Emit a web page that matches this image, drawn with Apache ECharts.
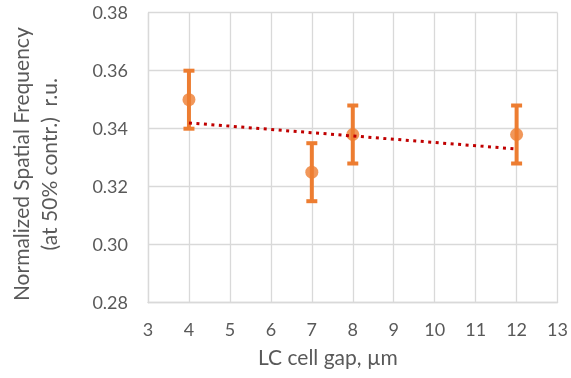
<!DOCTYPE html>
<html><head><meta charset="utf-8">
<script src="https://cdn.jsdelivr.net/npm/echarts@6/dist/echarts.min.js"></script>
<style>html,body{margin:0;padding:0;background:#fff}#c{width:571px;height:378px}</style>
</head><body><div id="c"></div>
<script>
const gapX = [4, 7, 8, 12];
const freqY = [0.350, 0.325, 0.338, 0.338];
const errLow = [0.340, 0.315, 0.328, 0.328];
const errHigh = [0.360, 0.335, 0.348, 0.348];
const trendX = [4, 12];
const trendY = [0.342, 0.333];
const xTitle = 'LC cell gap, µm';
const yTitle = 'Normalized Spatial Frequency\n(at 50% contr.)  r.u.';

const FONT = 'Lato';
const chart = echarts.init(document.getElementById('c'), null, {renderer: 'canvas'});
const orange = '#ED7D31';
chart.setOption({
  animation: false,
  title: {text: xTitle, left: 258, top: 348, padding: 0, textStyle: {fontFamily: FONT, fontSize: 21, fontWeight: 'normal', color: '#595959'}},
  grid: {left: 146, right: 12, top: 12.7, bottom: 75.3, containLabel: false},
  xAxis: {
    type: 'value', min: 3, max: 13, interval: 1,
    axisLine: {lineStyle: {color: '#D9D9D9', width: 1.3}},
    axisTick: {show: false},
    splitLine: {show: true, lineStyle: {color: '#D9D9D9', width: 1.3}},
    axisLabel: {color: '#595959', fontFamily: FONT, fontSize: 18, margin: 18}
  },
  yAxis: {
    type: 'value', min: 0.28, max: 0.38, interval: 0.02,
    name: yTitle, nameLocation: 'middle', nameGap: 84, nameRotate: 90,
    nameTextStyle: {color: '#595959', fontFamily: FONT, fontSize: 21, lineHeight: 28, align: 'center', padding: [0, 13, 0, 0]},
    axisLine: {show: true, lineStyle: {color: '#D9D9D9', width: 1.3}},
    axisTick: {show: false},
    splitLine: {show: true, lineStyle: {color: '#D9D9D9', width: 1.3}},
    axisLabel: {color: '#595959', fontFamily: FONT, fontSize: 18, margin: 20, formatter: v => v.toFixed(2)}
  },
  series: [
    {
      type: 'custom', z: 2,
      data: gapX.map((x, i) => [x, errLow[i], errHigh[i]]),
      renderItem: function (params, api) {
        const lo = api.coord([api.value(0), api.value(1)]);
        const hi = api.coord([api.value(0), api.value(2)]);
        const hw = 5.5;
        const st = {stroke: orange, lineWidth: 4, fill: null};
        return {type: 'group', children: [
          {type: 'line', shape: {x1: lo[0], y1: lo[1], x2: hi[0], y2: hi[1]}, style: st},
          {type: 'line', shape: {x1: lo[0] - hw, y1: lo[1], x2: lo[0] + hw, y2: lo[1]}, style: st},
          {type: 'line', shape: {x1: hi[0] - hw, y1: hi[1], x2: hi[0] + hw, y2: hi[1]}, style: st}
        ]};
      }
    },
    {
      type: 'scatter', z: 3, symbol: 'circle', symbolSize: 13,
      itemStyle: {color: orange},
      data: gapX.map((x, i) => [x, freqY[i]])
    },
    {
      type: 'line', z: 4, symbol: 'none',
      lineStyle: {color: '#C00000', width: 3, type: [3, 4.5]},
      data: trendX.map((x, i) => [x, trendY[i]])
    }
  ]
});
</script></body></html>
